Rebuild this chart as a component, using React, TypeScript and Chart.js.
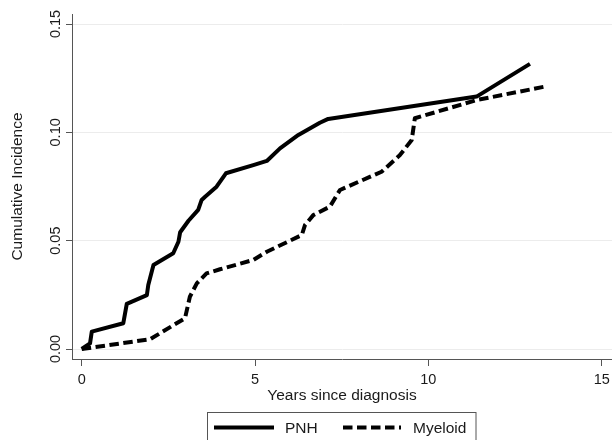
import React, { useEffect, useRef } from "react";
import { Chart, registerables } from "chart.js";

Chart.register(...registerables);

const pnhYears = [0, 0.24, 0.29, 1.2, 1.3, 1.88, 1.92, 2.07, 2.64, 2.79, 2.84, 3.08, 3.36, 3.46, 3.56, 3.89, 4.16, 4.95, 5.34, 5.72, 6.25, 6.87, 7.11, 11.39, 12.93];
const pnhIncidence = [0, 0.0026, 0.008, 0.0119, 0.0208, 0.0249, 0.0295, 0.0388, 0.0442, 0.0495, 0.0539, 0.0592, 0.0642, 0.0688, 0.0703, 0.0749, 0.0811, 0.0849, 0.0868, 0.0926, 0.0988, 0.1044, 0.1062, 0.1165, 0.1316];

const myeloidYears = [0, 1.97, 2.98, 3.12, 3.32, 3.6, 3.99, 4.95, 5.34, 6.35, 6.44, 6.68, 7.16, 7.45, 8.65, 9.18, 9.52, 9.61, 11.39, 13.36];
const myeloidIncidence = [0, 0.0045, 0.0142, 0.0241, 0.0303, 0.0349, 0.0368, 0.0411, 0.0449, 0.0526, 0.0572, 0.0618, 0.0657, 0.0734, 0.0818, 0.0895, 0.0965, 0.1065, 0.1149, 0.1211];

const xTicks = [0, 5, 10, 15];
const yTicks = [0, 0.05, 0.1, 0.15];
const xTitle = "Years since diagnosis";
const yTitle = "Cumulative Incidence";
const seriesNames = ["PNH", "Myeloid"];

const FONT = "'Liberation Sans', Arial, sans-serif";
const TEXT = "#1a1a1a";
const AXIS = "#555555";
const DASH = [9.5, 4.5];

const textPlugin = {
  id: "stataText",
  afterDraw(chart: any) {
    const ctx = chart.ctx as CanvasRenderingContext2D;
    const xs = chart.scales.x;
    const ys = chart.scales.y;
    const area = chart.chartArea;
    ctx.save();
    ctx.fillStyle = TEXT;

    // y tick labels (rotated)
    ctx.font = `14.5px ${FONT}`;
    ctx.textAlign = "center";
    ctx.textBaseline = "alphabetic";
    yTicks.forEach((v) => {
      const py = ys.getPixelForValue(v);
      ctx.save();
      ctx.translate(60, py);
      ctx.rotate(-Math.PI / 2);
      ctx.fillText(v.toFixed(2), 0, 0);
      ctx.restore();
    });

    // x tick labels
    ctx.textBaseline = "alphabetic";
    xTicks.forEach((v) => {
      const px = xs.getPixelForValue(v);
      ctx.fillText(String(v), px, 383.5);
    });

    // axis titles
    ctx.font = `15.5px ${FONT}`;
    ctx.fillText(xTitle, (area.left + area.right) / 2, 399.5);
    ctx.save();
    ctx.translate(21.5, (area.top + area.bottom) / 2);
    ctx.rotate(-Math.PI / 2);
    ctx.fillText(yTitle, 0, 0);
    ctx.restore();

    // legend
    ctx.strokeStyle = AXIS;
    ctx.lineWidth = 1;
    ctx.strokeRect(207.5, 412.5, 268.5, 40);
    ctx.strokeStyle = "#000";
    ctx.lineWidth = 4;
    ctx.lineCap = "butt";
    ctx.beginPath();
    ctx.moveTo(214, 427.5);
    ctx.lineTo(274, 427.5);
    ctx.stroke();
    ctx.setLineDash(DASH);
    ctx.beginPath();
    ctx.moveTo(343, 427.5);
    ctx.lineTo(401, 427.5);
    ctx.stroke();
    ctx.setLineDash([]);
    ctx.textAlign = "left";
    ctx.fillText(seriesNames[0], 285, 432.8);
    ctx.fillText(seriesNames[1], 413, 432.8);
    ctx.restore();
  },
};

export default function App() {
  const canvasRef = useRef<HTMLCanvasElement | null>(null);

  useEffect(() => {
    if (!canvasRef.current) return;
    const chart = new Chart(canvasRef.current, {
      type: "line",
      data: {
        datasets: [
          {
            label: seriesNames[1],
            data: myeloidYears.map((x, i) => ({ x, y: myeloidIncidence[i] })),
            borderColor: "#000",
            borderWidth: 4,
            borderDash: DASH,
            pointRadius: 0,
            tension: 0,
            fill: false,
            borderJoinStyle: "round",
          },
          {
            label: seriesNames[0],
            data: pnhYears.map((x, i) => ({ x, y: pnhIncidence[i] })),
            borderColor: "#000",
            borderWidth: 4,
            pointRadius: 0,
            tension: 0,
            fill: false,
            borderJoinStyle: "round",
          },
        ],
      },
      options: {
        animation: false,
        responsive: true,
        maintainAspectRatio: false,
        layout: { padding: { top: 14, left: 0, right: 0, bottom: 0 } },
        plugins: { legend: { display: false }, tooltip: { enabled: false } },
        scales: {
          x: {
            type: "linear",
            min: -0.28,
            max: 15.297,
            afterBuildTicks: (s: any) => {
              s.ticks = xTicks.map((v) => ({ value: v }));
            },
            afterFit: (s: any) => {
              s.height = 81;
            },
            ticks: { display: false },
            grid: { drawOnChartArea: false, tickColor: AXIS, tickLength: 7, tickWidth: 1 },
            border: { display: true, color: AXIS, width: 1 },
          },
          y: {
            type: "linear",
            min: -0.004615,
            max: 0.15462,
            afterBuildTicks: (s: any) => {
              s.ticks = yTicks.map((v) => ({ value: v }));
            },
            afterFit: (s: any) => {
              s.width = 72;
            },
            ticks: { display: false },
            grid: { color: "#ececec", lineWidth: 1, tickColor: AXIS, tickLength: 6, tickWidth: 1 },
            border: { display: true, color: AXIS, width: 1 },
          },
        },
      },
      plugins: [textPlugin],
    } as any);
    return () => chart.destroy();
  }, []);

  return (
    <div style={{ position: "fixed", left: 0, top: 0, width: 612, height: 440, background: "#fff" }}>
      <canvas ref={canvasRef} />
    </div>
  );
}
